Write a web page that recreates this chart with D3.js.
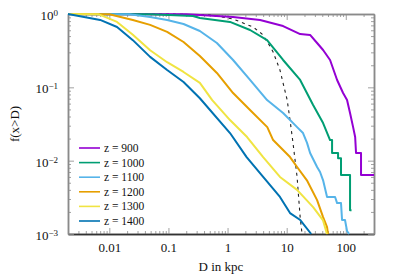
<!DOCTYPE html>
<html>
<head>
<meta charset="utf-8">
<script src="https://cdn.jsdelivr.net/npm/d3@7"></script>
<style>
  body { margin: 0; background: #fff; }
  text { font-family: "Liberation Serif", "DejaVu Serif", serif; }
</style>
</head>
<body>
<svg id="chart" width="399" height="279"></svg>
<script>
// survival fraction f(x>D) vs separation D (kpc)
const zLabels = ['z = 900', 'z = 1000', 'z = 1100', 'z = 1200', 'z = 1300', 'z = 1400'];
const zColors = ['#9400d3', '#009e73', '#56b4e9', '#e69f00', '#f0e442', '#0072b2'];

const z900 = [[0.002, 1], [0.2, 0.99], [0.34, 0.97], [1.24, 0.91], [3.55, 0.83], [8.7, 0.685],
  [16.9, 0.533], [24.9, 0.518], [32.7, 0.402], [41.3, 0.323], [54.2, 0.236], [71.3, 0.126],
  [90, 0.0836], [105, 0.067], [118, 0.0446], [133, 0.0287], [144, 0.021], [149, 0.0127],
  [181, 0.0127], [181, 0.0064], [300, 0.0064]];
const z1000 = [[0.002, 1], [0.05, 0.995], [0.26, 0.94], [0.34, 0.88], [1.1, 0.78], [2.4, 0.605],
  [4.66, 0.44], [8.7, 0.236], [16.9, 0.126], [28, 0.0574], [41.3, 0.0326], [54.2, 0.0191],
  [58.6, 0.0191], [58.6, 0.0127], [74, 0.0127], [74, 0.0108], [83, 0.0108], [83, 0.0064],
  [118, 0.0064], [118, 0.0021], [125, 0.0021]];
const z1100 = [[0.002, 1], [0.022, 0.995], [0.049, 0.91], [0.095, 0.83], [0.18, 0.73], [0.34, 0.586],
  [0.66, 0.402], [1.24, 0.236], [2.4, 0.126], [4.66, 0.067], [8.7, 0.0446], [15, 0.0287],
  [18.9, 0.0238], [22.1, 0.0175], [24.9, 0.0127], [32.7, 0.0082], [36.7, 0.007], [41.3, 0.0054],
  [48.2, 0.0032], [65.9, 0.0032], [71.3, 0.00264], [83, 0.00264], [86.5, 0.00155], [97, 0.00155],
  [105, 0.0011], [114, 0.001]];
const z1200 = [[0.002, 1], [0.01, 0.995], [0.025, 0.83], [0.049, 0.71], [0.095, 0.57], [0.18, 0.415],
  [0.34, 0.267], [0.66, 0.157], [1.24, 0.0836], [2.4, 0.049], [4.7, 0.0287], [5.9, 0.0191],
  [11.4, 0.0112], [15, 0.0082], [22, 0.0054], [32.7, 0.0029], [41.3, 0.0017], [48.2, 0.00124],
  [50, 0.001]];
const z1300 = [[0.002, 1], [0.0065, 0.995], [0.0135, 0.78], [0.025, 0.52], [0.049, 0.32], [0.095, 0.22],
  [0.18, 0.162], [0.34, 0.115], [0.55, 0.067], [1.1, 0.0358], [2.14, 0.021], [4.0, 0.0112],
  [7.7, 0.006], [15, 0.004], [28, 0.00233], [41, 0.00155], [48, 0.001]];
const z1400 = [[0.002, 1], [0.007, 0.83], [0.0135, 0.665], [0.025, 0.44], [0.049, 0.26], [0.095, 0.172],
  [0.18, 0.118], [0.34, 0.071], [1.1, 0.0238], [2.1, 0.0112], [4.0, 0.006], [7.7, 0.0032],
  [11.4, 0.00193], [17, 0.00155], [26, 0.001]];
const dashedRef = [[0.002, 1], [0.1, 0.999], [0.5, 0.97], [1.24, 0.855], [2.7, 0.665], [3.84, 0.533],
  [4.84, 0.402], [5.9, 0.303], [7.7, 0.172], [10.2, 0.067], [11.4, 0.0358], [12.8, 0.0174],
  [15, 0.006], [16.9, 0.0017], [18.2, 0.001]];

const seriesList = [z900, z1000, z1100, z1200, z1300, z1400];
const xTicks = [0.01, 0.1, 1, 10, 100];
const xTickLabels = ['0.01', '0.1', '1', '10', '100'];
const yTicks = [1, 0.1, 0.01, 0.001];
const yTickExps = ['0', '-1', '-2', '-3'];

const svg = d3.select('#chart');
const pLeft = 68, pRight = 374, pTop = 14, pBottom = 234;

const x = d3.scaleLog().domain([0.002, 300]).range([pLeft, pRight]);
const y = d3.scaleLog().domain([0.001, 1]).range([pBottom, pTop]);

// log minor ticks
const xMinor = [];
for (let e = -3; e <= 2; e++) {
  for (let m = 2; m <= 9; m++) {
    const v = m * Math.pow(10, e);
    if (v > 0.002 && v < 300) xMinor.push(v);
  }
}
const yMinor = [];
for (let e = -3; e <= -1; e++) {
  for (let m = 2; m <= 9; m++) yMinor.push(m * Math.pow(10, e));
}

const gridColor = '#8a8a8a';

function drawAxis(axis, transform, stroke) {
  const g = svg.append('g')
      .attr('transform', transform)
      .call(axis);
  g.select('.domain').attr('stroke', stroke).attr('stroke-width', 1.5);
  g.selectAll('.tick line').attr('stroke', gridColor).attr('stroke-width', 0.8);
  return g;
}

// minor ticks all four sides
drawAxis(d3.axisBottom(x).tickValues(xMinor).tickSize(-3).tickSizeOuter(0).tickFormat(''),
  `translate(0,${pBottom})`, '#333');
drawAxis(d3.axisTop(x).tickValues(xMinor).tickSize(-3).tickSizeOuter(0).tickFormat(''),
  `translate(0,${pTop})`, gridColor);
drawAxis(d3.axisLeft(y).tickValues(yMinor).tickSize(-3).tickSizeOuter(0).tickFormat(''),
  `translate(${pLeft},0)`, gridColor);
drawAxis(d3.axisRight(y).tickValues(yMinor).tickSize(-3).tickSizeOuter(0).tickFormat(''),
  `translate(${pRight},0)`, gridColor);

// major ticks
const xAxis = drawAxis(d3.axisBottom(x).tickValues(xTicks).tickSize(-6).tickSizeOuter(0).tickPadding(9)
    .tickFormat((d, i) => xTickLabels[i]),
  `translate(0,${pBottom})`, '#333');
xAxis.selectAll('text').attr('fill', '#111').style('font-size', '13px')
  .style('font-family', '"Liberation Serif", serif');
drawAxis(d3.axisTop(x).tickValues(xTicks).tickSize(-6).tickSizeOuter(0).tickFormat(''),
  `translate(0,${pTop})`, gridColor);
drawAxis(d3.axisRight(y).tickValues(yTicks).tickSize(-6).tickSizeOuter(0).tickFormat(''),
  `translate(${pRight},0)`, gridColor);

const yAxis = drawAxis(d3.axisLeft(y).tickValues(yTicks).tickSize(-6).tickSizeOuter(0).tickPadding(10)
    .tickFormat(''),
  `translate(${pLeft},0)`, gridColor);
yAxis.selectAll('.tick').each(function (d, i) {
  const t = d3.select(this).select('text')
      .attr('fill', '#111')
      .attr('dy', '0.42em')
      .style('font-size', '13px')
      .style('font-family', '"Liberation Serif", serif');
  t.append('tspan').text('10');
  t.append('tspan')
      .attr('dy', '-0.45em')
      .style('font-size', '9px')
      .text(yTickExps[i].replace('-', '\u2212'));
});

// reference curve (dashed)
const line = d3.line().x(d => x(d[0])).y(d => y(d[1]));

const plot = svg.append('g');
plot.append('path')
    .datum(dashedRef)
    .attr('fill', 'none')
    .attr('stroke', '#222')
    .attr('stroke-width', 1.1)
    .attr('stroke-dasharray', '3,4')
    .attr('d', line);

plot.selectAll('.series')
  .data(seriesList)
  .join('path')
    .attr('class', 'series')
    .attr('fill', 'none')
    .attr('stroke', (d, i) => zColors[i])
    .attr('stroke-width', 2)
    .attr('stroke-linejoin', 'round')
    .attr('d', line);

// legend
const legend = svg.append('g')
    .attr('transform', 'translate(79,148)');
const rows = legend.selectAll('g')
  .data(zLabels)
  .join('g')
    .attr('transform', (d, i) => `translate(0,${i * 14.6})`);
rows.append('line')
    .attr('x1', 0).attr('x2', 21)
    .attr('stroke', (d, i) => zColors[i])
    .attr('stroke-width', 1.6);
rows.append('text')
    .attr('x', 25)
    .attr('dy', '0.35em')
    .attr('fill', '#111')
    .style('font-size', '11.5px')
    .text(d => d);

// axis titles
svg.append('text')
    .attr('x', (pLeft + pRight) / 2)
    .attr('y', 271)
    .attr('text-anchor', 'middle')
    .attr('fill', '#111')
    .style('font-size', '13px')
    .text('D in kpc');

svg.append('text')
    .attr('transform', `translate(19,${(pTop + pBottom) / 2}) rotate(-90)`)
    .attr('text-anchor', 'middle')
    .attr('fill', '#111')
    .style('font-size', '13px')
    .text('f(x>D)');
</script>
</body>
</html>
